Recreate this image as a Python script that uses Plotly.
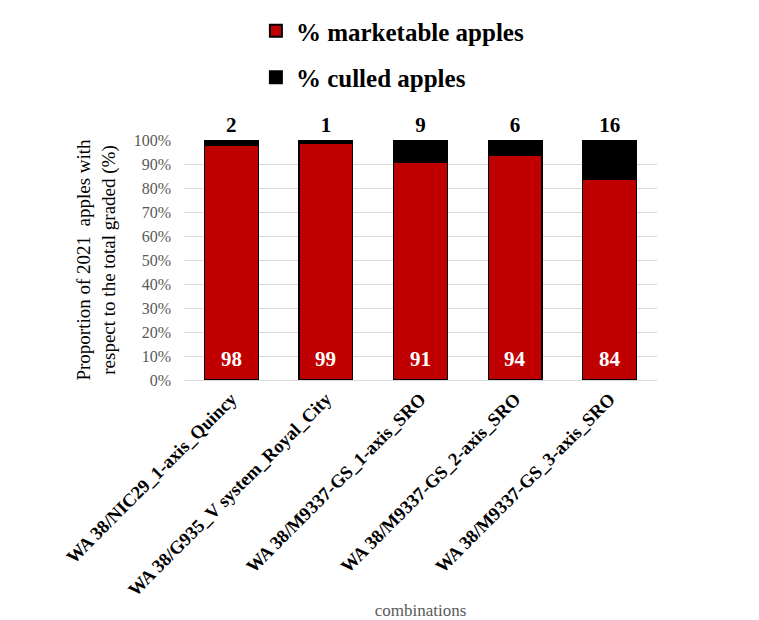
import plotly.graph_objects as go

# rootstock / training system combinations
combos = ["WA 38/NIC29_1-axis_Quincy",
          "WA 38/G935_V system_Royal_City",
          "WA 38/M9337-GS_1-axis_SRO",
          "WA 38/M9337-GS_2-axis_SRO",
          "WA 38/M9337-GS_3-axis_SRO"]
marketable = [97.6, 98.6, 90.6, 93.6, 83.6]  # % marketable apples
culled = [2.4, 1.4, 9.4, 6.4, 16.4]          # % culled apples
y_ticks = [0, 10, 20, 30, 40, 50, 60, 70, 80, 90, 100]
y_ticktext = ["0%", "10%", "20%", "30%", "40%", "50%", "60%", "70%", "80%", "90%", "100%"]

serif = "Liberation Serif"

fig = go.Figure()
fig.add_trace(go.Bar(x=combos, y=marketable, name="% marketable apples",
                     marker=dict(color="#c00000", line=dict(color="black", width=1.2)),
                     legendgroup="a"))
fig.add_trace(go.Bar(x=combos, y=culled, name="% culled apples",
                     marker=dict(color="black", line=dict(color="black", width=1.2)),
                     texttemplate="%{y:.0f}", textposition="outside", cliponaxis=False,
                     textfont=dict(family=serif, size=21, color="black", weight="bold"),
                     legendgroup="b"))

# white value labels near the bottom of the red bars
for c, v in zip(combos, marketable):
    fig.add_annotation(x=c, y=0, text="%.0f" % v, showarrow=False,
                       yanchor="bottom", yshift=7,
                       font=dict(family=serif, size=21, color="white", weight="bold"))

# page body has an 8px margin, so figure is 751x612 and margins are shifted by 8
fig.update_layout(
    barmode="stack", bargap=0.43,
    width=751, height=612,
    margin=dict(l=176, r=102, t=132, b=240, autoexpand=False),
    plot_bgcolor="white", paper_bgcolor="white",
    font=dict(family=serif, color="black"),
    showlegend=True,
    legend=dict(orientation="v", x=0.152, xanchor="left", y=1.55, yanchor="top",
                font=dict(family=serif, size=25, color="black", weight="bold"),
                traceorder="grouped", tracegroupgap=11, itemsizing="constant"),
    yaxis=dict(range=[0, 100], tickvals=y_ticks, ticktext=y_ticktext, automargin=False,
               tickfont=dict(family=serif, size=16, color="#595959"), ticklabelstandoff=12,
               showgrid=True, gridcolor="#d9d9d9", gridwidth=1, zeroline=False,
               showline=False,
               title=dict(text="Proportion of 2021  apples with<br>respect to the total graded (%)",
                          font=dict(family=serif, size=19, color="black"), standoff=13)),
    xaxis=dict(tickangle=-45, showline=True, linecolor="#d9d9d9", automargin=False,
               tickfont=dict(family=serif, size=18.5, color="black", weight="bold"),
               title=dict(text="combinations", font=dict(family=serif, size=17, color="#595959"),
                          standoff=5)),
)

fig.write_html("out.html")
